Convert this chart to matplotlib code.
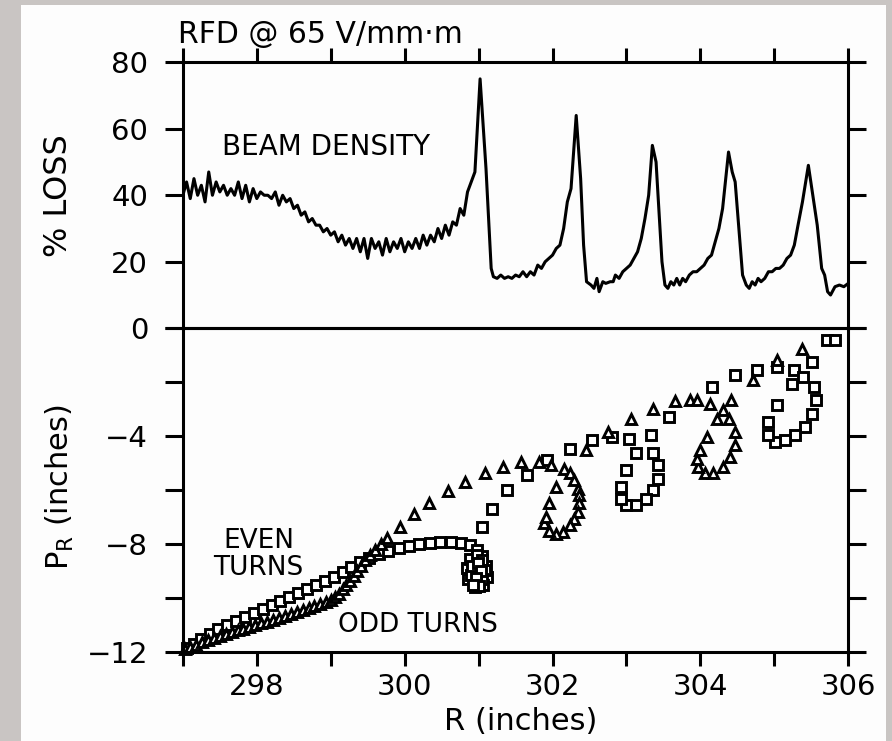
import matplotlib
matplotlib.use("Agg")
import matplotlib.pyplot as plt
from matplotlib.patches import Rectangle

plt.rcParams['font.family'] = ['DejaVu Sans']

# beam density (% loss) vs R
loss_r = [297.00, 297.05, 297.10, 297.15, 297.20, 297.25, 297.30, 297.35, 297.40, 297.45,
          297.50, 297.55, 297.60, 297.65, 297.70, 297.75, 297.80, 297.85, 297.90, 297.95,
          298.00, 298.05, 298.10, 298.15, 298.20, 298.25, 298.30, 298.35, 298.40, 298.45,
          298.50, 298.55, 298.60, 298.65, 298.70, 298.75, 298.80, 298.85, 298.90, 298.95,
          299.00, 299.05, 299.10, 299.15, 299.20, 299.25, 299.30, 299.35, 299.40, 299.45,
          299.50, 299.55, 299.60, 299.65, 299.70, 299.75, 299.80, 299.85, 299.90, 299.95,
          300.00, 300.05, 300.10, 300.15, 300.20, 300.25, 300.30, 300.35, 300.40, 300.45,
          300.50, 300.55, 300.60, 300.65, 300.70, 300.75, 300.80, 300.85, 300.90, 300.95,
          301.02, 301.10, 301.17, 301.20, 301.25, 301.30, 301.35, 301.40, 301.45, 301.50,
          301.55, 301.60, 301.65, 301.70, 301.75, 301.80, 301.85, 301.90, 301.95, 302.00,
          302.05, 302.10, 302.15, 302.20, 302.25, 302.32, 302.38, 302.42, 302.46, 302.52,
          302.56, 302.60, 302.63, 302.68, 302.72, 302.78, 302.82, 302.85, 302.90, 302.95,
          303.00, 303.05, 303.10, 303.15, 303.20, 303.25, 303.30, 303.35, 303.40, 303.44,
          303.48, 303.52, 303.56, 303.60, 303.64, 303.68, 303.72, 303.76, 303.80, 303.85,
          303.90, 303.95, 304.00, 304.05, 304.10, 304.15, 304.20, 304.25, 304.30, 304.38,
          304.43, 304.47, 304.52, 304.57, 304.62, 304.66, 304.70, 304.74, 304.78, 304.82,
          304.87, 304.92, 304.97, 305.02, 305.07, 305.12, 305.17, 305.22, 305.27, 305.32,
          305.38, 305.46, 305.52, 305.58, 305.64, 305.68, 305.72, 305.76, 305.82, 305.88,
          305.94, 306.00]
loss_pct = [40, 44, 39, 45, 40, 43, 38, 47, 40, 44,
            41, 43, 40, 42, 40, 44, 39, 43, 38, 42,
            39, 41, 40, 40, 39, 41, 37, 40, 38, 39,
            36, 37, 34, 35, 32, 33, 31, 31, 29, 30,
            28, 29, 26, 28, 25, 27, 24, 27, 23, 27,
            21, 27, 24, 26, 22, 27, 23, 26, 24, 27,
            23, 26, 24, 27, 24, 28, 25, 28, 26, 30,
            27, 31, 28, 32, 31, 36, 34, 41, 44, 47,
            75, 48, 18, 15.5, 15, 16, 15, 15.5, 15, 16,
            15.5, 17, 15.5, 17, 16, 19, 18, 20, 21, 22,
            24, 25, 30, 38, 42, 64, 45, 25, 14, 13,
            12, 15, 11, 14, 13.5, 14, 14, 16, 15, 17,
            18, 19, 21, 23, 27, 33, 40, 55, 50, 35,
            20, 13, 12, 14, 13, 15, 13, 15, 14, 16,
            17, 17, 18, 19, 21, 22, 26, 30, 36, 53,
            47, 44, 30, 16, 13, 12, 14, 13, 15, 14,
            15, 17, 17, 18, 18, 19, 21, 22, 25, 31,
            38, 49, 40, 31, 18, 16, 11, 10, 12.5, 13,
            12.5, 13.5]

# radial momentum, even turns (squares)
even_r = [297.05, 297.15, 297.25, 297.37, 297.48, 297.60, 297.72, 297.84, 297.96, 298.08,
          298.20, 298.32, 298.44, 298.56, 298.68, 298.80, 298.92, 299.04, 299.16, 299.28,
          299.40, 299.52, 299.65, 299.78, 299.92, 300.06, 300.20, 300.34, 300.48, 300.62,
          300.76, 300.88, 300.98,
          301.05, 301.10, 301.12, 301.06, 300.95, 300.86, 300.84, 300.88, 300.98, 301.05,
          301.08, 301.05, 300.96, 300.90, 300.91, 300.99, 301.03, 300.96, 301.00, 300.93,
          301.05, 301.18, 301.39, 301.66, 301.93, 302.23, 302.54, 302.81, 303.04, 303.13,
          303.36, 303.43, 303.43, 303.36, 303.27, 303.13, 303.00, 302.93, 302.93, 303.00,
          303.33, 303.58, 304.15, 304.47, 304.76, 305.03, 305.26, 305.39, 305.51, 305.53,
          305.57, 305.51, 305.42, 305.28, 305.14, 305.01, 304.92, 304.92, 305.03, 305.24,
          305.71, 305.82]
even_p = [-11.85, -11.70, -11.50, -11.32, -11.15, -10.98, -10.85, -10.70, -10.55, -10.40,
          -10.25, -10.10, -9.95, -9.80, -9.65, -9.50, -9.35, -9.20, -9.02, -8.84,
          -8.65, -8.50, -8.38, -8.27, -8.15, -8.06, -8.00, -7.95, -7.92, -7.93,
          -7.97, -8.05, -8.20,
          -8.45, -8.80, -9.20, -9.50, -9.60, -9.30, -8.90, -8.55, -8.42, -8.60,
          -8.95, -9.30, -9.42, -9.15, -8.80, -8.70, -9.00, -9.25, -9.55, -9.50,
          -7.36, -6.68, -6.00, -5.44, -4.89, -4.46, -4.15, -4.03, -4.09, -4.64,
          -4.64, -5.07, -5.57, -6.00, -6.31, -6.56, -6.56, -6.31, -5.88, -5.26,
          -3.96, -3.28, -2.17, -1.74, -1.56, -1.43, -1.56, -1.80, -1.25, -2.17,
          -2.67, -3.16, -3.65, -3.96, -4.15, -4.21, -3.96, -3.47, -2.85, -2.05,
          -0.42, -0.44]

# radial momentum, odd turns (triangles)
odd_r = [297.03, 297.10, 297.18, 297.26, 297.34, 297.42, 297.50, 297.58, 297.66, 297.74,
         297.82, 297.90, 297.98, 298.06, 298.14, 298.22, 298.30, 298.38, 298.46, 298.54,
         298.62, 298.70, 298.78, 298.86, 298.93, 299.00, 299.06, 299.11, 299.16, 299.21,
         299.26, 299.31, 299.36, 299.41, 299.47, 299.53, 299.60, 299.68, 299.76, 299.94,
         300.12, 300.33, 300.58, 300.82, 301.08, 301.33, 301.57, 301.82, 301.98, 302.16,
         302.23, 302.29, 302.34, 302.36, 302.36, 302.34, 302.29, 302.23, 302.14, 302.05,
         301.95, 301.89, 301.91, 301.95, 302.05, 302.45, 302.75, 303.06, 303.36, 303.65,
         303.86, 303.95, 304.13, 304.31, 304.22, 304.38, 304.47, 304.47, 304.40, 304.31,
         304.17, 304.06, 303.97, 303.95, 304.00, 304.09, 304.42, 304.71, 305.03, 305.37]
odd_p = [-11.90, -11.80, -11.72, -11.62, -11.55, -11.48, -11.40, -11.32, -11.26, -11.20,
         -11.13, -11.06, -11.00, -10.93, -10.87, -10.80, -10.73, -10.66, -10.59, -10.52,
         -10.45, -10.38, -10.31, -10.23, -10.15, -10.06, -9.95, -9.83, -9.68, -9.52,
         -9.35, -9.17, -8.98, -8.80, -8.60, -8.40, -8.20, -8.00, -7.79, -7.35,
         -6.89, -6.47, -6.03, -5.68, -5.36, -5.14, -4.97, -4.95, -5.05, -5.20,
         -5.38, -5.63, -5.94, -6.19, -6.49, -6.80, -7.05, -7.30, -7.54, -7.62,
         -7.50, -7.23, -6.99, -6.49, -5.88, -4.52, -3.84, -3.35, -2.98, -2.71,
         -2.67, -2.67, -2.79, -3.04, -3.35, -3.35, -3.84, -4.33, -4.77, -5.14,
         -5.36, -5.38, -5.14, -4.83, -4.52, -4.03, -2.67, -1.93, -1.19, -0.75]

r_ticks = [297, 298, 299, 300, 301, 302, 303, 304, 305, 306]
r_labels = ["", "298", "", "300", "", "302", "", "304", "", "306"]
loss_ticks = [0, 20, 40, 60, 80]
p_ticks = [-12, -10, -8, -6, -4, -2, 0]
p_labels = ["\u221212", "", "\u22128", "", "\u22124", "", ""]

fig = plt.figure(figsize=(8.92, 7.41), dpi=100)
fig.patch.set_facecolor("#c9c5c3")
fig.patches.append(Rectangle((0.023, 0.0), 0.97, 0.993, transform=fig.transFigure,
                             facecolor="#fdfdfd", edgecolor="none", zorder=-10))

ax1 = fig.add_axes([0.205, 0.557, 0.746, 0.359])
ax2 = fig.add_axes([0.205, 0.120, 0.746, 0.437], sharex=ax1)

lw_ax = 2.2
for ax in (ax1, ax2):
    ax.set_facecolor("none")
    for s in ax.spines.values():
        s.set_linewidth(lw_ax)
    ax.tick_params(direction="out", width=lw_ax, labelsize=21)
    ax.tick_params(axis="y", length=13, pad=12)
    ax.tick_params(axis="x", length=10, pad=5)

# upper panel
ax1.plot(loss_r, loss_pct, color="black", lw=2.2)
ax1.set_xlim(297, 306)
ax1.set_ylim(0, 80)
ax1.set_xticks(r_ticks)
ax1.tick_params(axis="x", bottom=False, top=True, labelbottom=False, labeltop=False)
ax1.set_yticks(loss_ticks)
ax1.tick_params(axis="y", left=True, right=True, labelright=False)
ax1.set_ylabel("% LOSS", fontsize=23)
ax1.yaxis.set_label_coords(-0.163, 0.50)
ax1.text(0.0586, 0.650, "BEAM DENSITY", transform=ax1.transAxes, fontsize=20,
         va="baseline")
fig.text(0.1996, 0.942, "RFD @ 65 V/mm\u00b7m", fontsize=21.5, va="baseline")

# lower panel
ax2.plot(even_r, even_p, ls="none", marker="s", ms=7, mfc="white", mec="black",
         mew=2.1, clip_on=False)
ax2.plot(odd_r, odd_p, ls="none", marker="^", ms=7.5, mfc="white", mec="black",
         mew=2.1, clip_on=False)
ax2.set_ylim(-12, 0)
ax2.set_xticks(r_ticks)
ax2.set_xticklabels(r_labels)
ax2.set_yticks(p_ticks)
ax2.set_yticklabels(p_labels)
ax2.tick_params(axis="y", left=True, right=True, labelright=False)
ax2.set_xlabel("R (inches)", fontsize=22, va="top")
ax2.xaxis.set_label_coords(0.508, -0.17)
ax2.set_ylabel(r"$\mathregular{P_R}$ (inches)", fontsize=22)
ax2.yaxis.set_label_coords(-0.160, 0.51)
ax2.text(0.114, 0.321, "EVEN", transform=ax2.transAxes, fontsize=19,
         ha="center", va="baseline")
ax2.text(0.114, 0.238, "TURNS", transform=ax2.transAxes, fontsize=19,
         ha="center", va="baseline")
ax2.text(0.233, 0.062, "ODD TURNS", transform=ax2.transAxes, fontsize=19,
         va="baseline")

fig.savefig("out.png", dpi=100, facecolor=fig.get_facecolor())
